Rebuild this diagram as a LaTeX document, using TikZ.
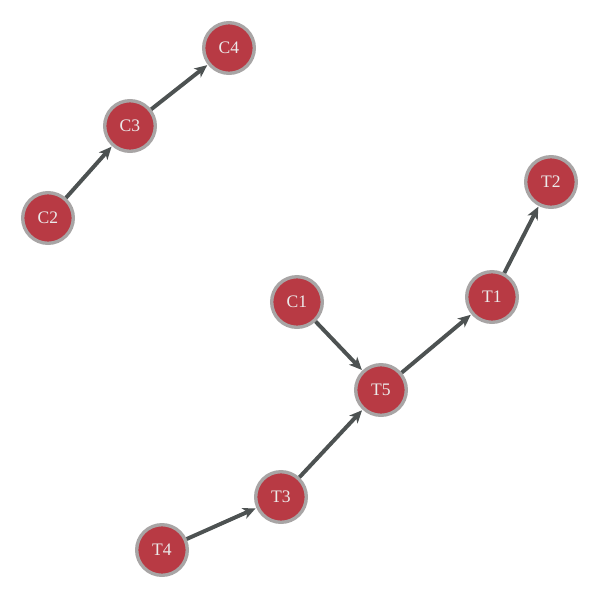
\documentclass[tikz,border=0pt]{standalone}
\usepackage{fontspec}
\setmainfont{Liberation Serif}
\usetikzlibrary{arrows.meta}
\definecolor{nodered}{HTML}{B83A44}
\definecolor{ringgray}{HTML}{A8A5A5}
\definecolor{edgegray}{HTML}{4D5252}
\tikzstyle{task}=[circle, draw=ringgray, fill=nodered, line width=2.4pt,
    minimum size=36pt, inner sep=0pt, text=white!92!black,
    font=\fontsize{12.5}{14}\selectfont]
\tikzstyle{link}=[draw=edgegray, line width=2.8pt,
    -{Stealth[length=9pt, width=8pt, inset=2.5pt]}, shorten >=0.5pt]

\begin{document}
\begin{tikzpicture}[x=0.025cm, y=-0.025cm]
\useasboundingbox (0,0) rectangle (600,600);
% C chain
\path (229,48) node [task] (C4) {C4};
\path (130,126) node [task] (C3) {C3};
\path (48,218) node [task] (C2) {C2};
% T chain
\path (551,182) node [task] (T2) {T2};
\path (492,297) node [task] (T1) {T1};
\path (297,302) node [task] (C1) {C1};
\path (381,390) node [task] (T5) {T5};
\path (281,497) node [task] (T3) {T3};
\path (162,550) node [task] (T4) {T4};
% arrows
\draw [link] (C2) -- (C3);
\draw [link] (C3) -- (C4);
\draw [link] (T4) -- (T3);
\draw [link] (T3) -- (T5);
\draw [link] (C1) -- (T5);
\draw [link] (T5) -- (T1);
\draw [link] (T1) -- (T2);
\end{tikzpicture}
\end{document}
